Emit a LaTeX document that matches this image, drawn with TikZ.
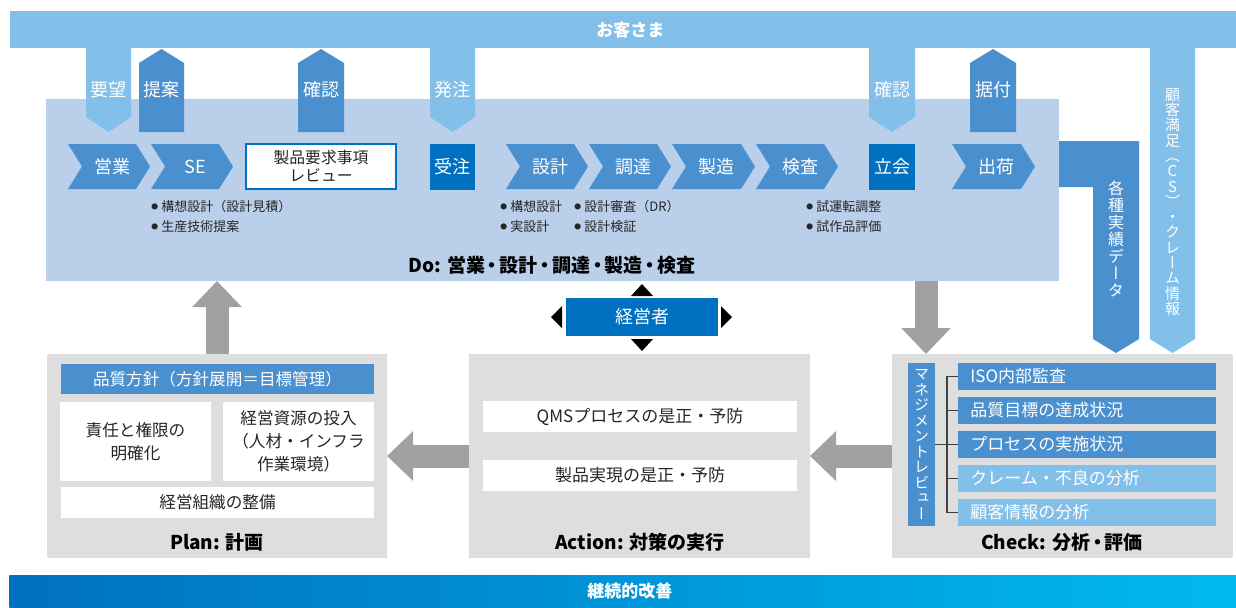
\documentclass[tikz,border=0pt]{standalone}
\usepackage{fontspec}
\setmainfont{Noto Sans CJK JP}
\newfontfamily\vfont[RawFeature=+vert]{Noto Sans CJK JP}
\usepackage{xcolor}
\usetikzlibrary{arrows.meta, calc}
\definecolor{custblue}{HTML}{82C0EA}
\definecolor{chevblue}{HTML}{4A90CE}
\definecolor{deepblue}{HTML}{0070C0}
\definecolor{dobg}{HTML}{BACFEA}
\definecolor{boxgray}{HTML}{DEDEDE}
\definecolor{arrowgray}{HTML}{A0A2A2}
\definecolor{seablue}{HTML}{00B9EF}
\newcommand{\bdot}{\raisebox{1.1pt}{\fontsize{3.4}{3.4}\selectfont ●}\kern1.6pt}
\newcommand{\ndot}{\kern-1.1pt・\kern-1.1pt}

\begin{document}
\begin{tikzpicture}[x=0.5pt, y=-0.5pt, font=\fontsize{9}{10}\selectfont,
  lbl/.style={text=white},
  bul/.style={anchor=west, inner sep=0, text=black!85, font=\fontsize{6.5}{7}\selectfont},
  ttl/.style={text=black, font=\bfseries\fontsize{9.5}{11}\selectfont},
  panel/.style={fill=boxgray, anchor=north west, inner sep=0, outer sep=0, minimum width=170.5pt, minimum height=102pt},
  whitebox/.style={fill=white, inner sep=0, align=center, text=black!85, font=\fontsize{8.3}{11.5}\selectfont},
  checkitem/.style={fill=chevblue, text=white, anchor=west, inner xsep=6pt, inner ysep=0, minimum height=13.5pt, text width=117pt, align=left, font=\fontsize{8.5}{10}\selectfont},
  bigarrow/.style={arrowgray, line width=11.5pt, -{Triangle[length=13pt, width=24pt]}},
  bracket/.style={black!75, line width=0.6pt}]
  \useasboundingbox (0,0) rectangle (1236,607);

  % --- Customer band ---
  \node[fill=custblue, anchor=north west, inner sep=0, minimum width=613pt, minimum height=18.5pt, text=white, font=\bfseries\fontsize{8.5}{10}\selectfont] (cust) at (10,11) {\hspace{7pt}お客さま};

  % --- Do: main process ---
  \node[fill=dobg, anchor=north west, inner sep=0, outer sep=0, minimum width=506.5pt, minimum height=91pt] (do) at (46,99) {};

  % right side feedback bars
  \fill[chevblue] (1059,141) -- (1139,141) -- (1139,339) -- (1116,353) -- (1093,339) -- (1093,187) -- (1059,187) -- cycle;
  \fill[custblue] (1150,48) -- (1195,48) -- (1195,339) -- (1172.5,353) -- (1150,339) -- cycle;
  \node[lbl, align=center, font=\vfont\fontsize{8}{8.5}\selectfont] (jisseki) at (1116,239) {各\\種\\実\\績\\デ\\ー\\タ};
  \node[lbl, align=center, font=\vfont\fontsize{7.5}{7.65}\selectfont] (csinfo) at (1172.5,202) {顧\\客\\満\\足\\（\\C\\S\\）\\・\\ク\\レ\\ー\\ム\\情\\報};

  % arrows between customer and Do
  \fill[custblue] (86,48) -- (131,48) -- (131,117) -- (108.5,132) -- (86,117) -- cycle;
  \node[lbl] (yobo) at (108.5,90) {要望};
  \fill[chevblue] (139,132) -- (184,132) -- (184,63) -- (161.5,49) -- (139,63) -- cycle;
  \node[lbl] (teian) at (161.5,90) {提案};
  \fill[chevblue] (298,132) -- (344,132) -- (344,63) -- (321,49) -- (298,63) -- cycle;
  \node[lbl] (kakunin) at (321,90) {確認};
  \fill[custblue] (430,48) -- (475,48) -- (475,117) -- (452.5,132) -- (430,117) -- cycle;
  \node[lbl] (hatchu) at (452.5,90) {発注};
  \fill[custblue] (869,48) -- (915,48) -- (915,117) -- (892,132) -- (869,117) -- cycle;
  \node[lbl] (kakunin2) at (892,90) {確認};
  \fill[chevblue] (970,132) -- (1016,132) -- (1016,63) -- (993,49) -- (970,63) -- cycle;
  \node[lbl] (suetsuke) at (993,90) {据付};

  % process chevrons
  \fill[chevblue] (68,144) -- (136,144) -- (150,166.5) -- (136,189) -- (68,189) -- (82,166.5) -- cycle;
  \node[lbl] (eigyo) at (112,166.5) {営業};
  \fill[chevblue] (151,144) -- (219,144) -- (233,166.5) -- (219,189) -- (151,189) -- (165,166.5) -- cycle;
  \node[lbl] (se) at (195,166.5) {SE};
  \node[fill=white, draw=deepblue, line width=0.8pt, minimum width=75pt, minimum height=22.5pt, inner sep=0, align=center, text=black!85, font=\fontsize{7.9}{9}\selectfont] (review) at (321,166.5) {製品要求事項\\レビュー};
  \node[fill=deepblue, text=white, minimum width=22.5pt, minimum height=23pt, inner sep=0] (juchu) at (452.5,166.5) {受注};
  \fill[chevblue] (506,144) -- (574,144) -- (588,166.5) -- (574,189) -- (506,189) -- (520,166.5) -- cycle;
  \node[lbl] (sekkei) at (550,166.5) {設計};
  \fill[chevblue] (589,144) -- (657,144) -- (671,166.5) -- (657,189) -- (589,189) -- (603,166.5) -- cycle;
  \node[lbl] (chotatsu) at (633,166.5) {調達};
  \fill[chevblue] (672,144) -- (741,144) -- (755,166.5) -- (741,189) -- (672,189) -- (686,166.5) -- cycle;
  \node[lbl] (seizo) at (716,166.5) {製造};
  \fill[chevblue] (756,144) -- (824,144) -- (838,166.5) -- (824,189) -- (756,189) -- (770,166.5) -- cycle;
  \node[lbl] (kensa) at (800,166.5) {検査};
  \node[fill=deepblue, text=white, minimum width=23pt, minimum height=23pt, inner sep=0] (tachiai) at (892,166.5) {立会};
  \fill[chevblue] (952,144) -- (1021,144) -- (1035,166.5) -- (1021,189) -- (952,189) -- (966,166.5) -- cycle;
  \node[lbl] (shukka) at (996,166.5) {出荷};

  % bullet notes
  \node[bul] (b1) at (151,207) {\bdot 構想設計（設計見積）};
  \node[bul] (b2) at (151,227) {\bdot 生産技術提案};
  \node[bul] (b3) at (500,207) {\bdot 構想設計};
  \node[bul] (b4) at (500,227) {\bdot 実設計};
  \node[bul] (b5) at (574,207) {\bdot 設計審査（DR）};
  \node[bul] (b6) at (574,227) {\bdot 設計検証};
  \node[bul] (b7) at (806,207) {\bdot 試運転調整};
  \node[bul] (b8) at (806,227) {\bdot 試作品評価};
  \node[ttl] (dottl) at (552,265) {Do: 営業\ndot 設計\ndot 調達\ndot 製造\ndot 検査};

  % --- Management ---
  \node[fill=deepblue, text=white, minimum width=76pt, minimum height=19pt, inner sep=0] (mgr) at (642,317) {経営者};
  \fill (631,296) -- (653,296) -- (642,284) -- cycle;
  \fill (631,339) -- (653,339) -- (642,351) -- cycle;
  \fill (562,306) -- (562,328) -- (551,317) -- cycle;
  \fill (721,306) -- (721,328) -- (732,317) -- cycle;

  % --- Plan / Action / Check panels ---
  \node[panel, minimum width=170pt] (plan) at (47,354) {};
  \node[panel] (action) at (469,354) {};
  \node[panel] (check) at (892,354) {};

  % big gray arrows
  \draw[bigarrow] (plan.north) -- (plan.north |- do.south);
  \coordinate (docheck) at (926,281);
  \draw[bigarrow] (docheck) -- (docheck |- check.north);
  \draw[bigarrow] (check.west) -- (action.east);
  \draw[bigarrow] (action.west) -- (plan.east);

  % Plan
  \node[fill=chevblue, text=white, minimum width=156.5pt, minimum height=15pt, inner sep=0, font=\fontsize{8.3}{10}\selectfont] (policy) at (217.5,379) {品質方針（方針展開＝目標管理）};
  \node[whitebox, minimum width=75.5pt, minimum height=39.5pt] (resp) at (135.5,441.5) {責任と権限の\\明確化};
  \node[whitebox, minimum width=75.5pt, minimum height=39.5pt] (resource) at (298.5,441.5) {経営資源の投入\\（人材・インフラ\\作業環境）};
  \node[whitebox, minimum width=156.5pt, minimum height=15.5pt] (org) at (217.5,502.5) {経営組織の整備};
  \node[ttl] (planttl) at (217,542) {Plan: 計画};

  % Action
  \node[whitebox, minimum width=157pt, minimum height=15.5pt, font=\fontsize{8.5}{10}\selectfont] (qms) at (640,416.5) {QMSプロセスの是正・予防};
  \node[whitebox, minimum width=157pt, minimum height=15.5pt, font=\fontsize{8.5}{10}\selectfont] (product) at (640,475.5) {製品実現の是正・予防};
  \node[ttl] (actttl) at (640,542) {Action: 対策の実行};

  % Check
  \node[fill=chevblue, text=white, minimum width=13.5pt, minimum height=81.5pt, inner sep=0, align=center, font=\vfont\fontsize{7.5}{7.75}\selectfont] (mreview) at (921.5,444.5) {マ\\ネ\\ジ\\メ\\ン\\ト\\レ\\ビ\\ュ\\ー};
  \node[checkitem] (iso) at (958,376.5) {ISO内部監査};
  \node[checkitem] (goal) at (958,410.5) {品質目標の達成状況};
  \node[checkitem] (proc) at (958,444.5) {プロセスの実施状況};
  \node[checkitem, fill=custblue] (claim) at (958,478.5) {クレーム・不良の分析};
  \node[checkitem, fill=custblue] (cinfo) at (958,512.5) {顧客情報の分析};
  \coordinate (brk) at (947,444.5);
  \draw[bracket] (mreview.east) -- (brk);
  \draw[bracket] (iso.west) -| (brk);
  \draw[bracket] (goal.west) -| (brk);
  \draw[bracket] (proc.west) -| (brk);
  \draw[bracket] (claim.west) -| (brk);
  \draw[bracket] (cinfo.west) -| (brk);
  \node[ttl] (chkttl) at (1062,542) {Check: 分析\ndot 評価};

  % --- Continuous improvement band ---
  \node[anchor=north west, inner sep=0, minimum width=613.5pt, minimum height=16pt, left color=deepblue, right color=seablue, text=white, font=\bfseries\fontsize{8.5}{10}\selectfont] (kaizen) at (9,575) {\hspace{7pt}継続的改善};
\end{tikzpicture}
\end{document}
